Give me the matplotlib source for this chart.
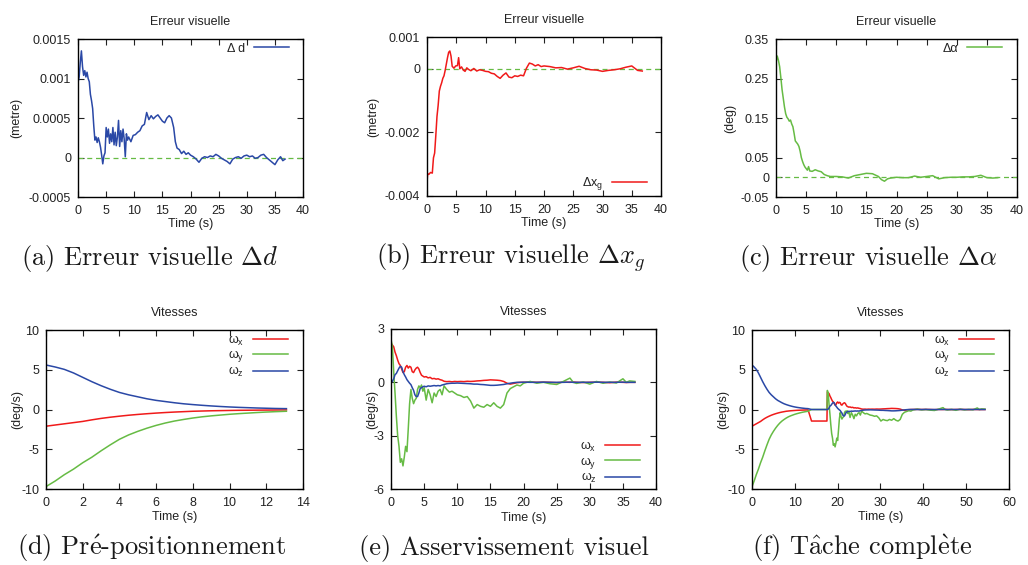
import numpy as np
import matplotlib
matplotlib.use('Agg')
import matplotlib.pyplot as plt

plt.rcParams['font.family'] = ['Liberation Sans', 'DejaVu Sans']
plt.rcParams['mathtext.fontset'] = 'custom'
plt.rcParams['mathtext.rm'] = 'Liberation Sans'
plt.rcParams['mathtext.it'] = 'Liberation Sans:italic'

# ---- (a) visual error delta d, in units of 1e-4 metre
t_a = [0.0, 0.2, 0.4, 0.6, 0.8, 1.0, 1.2, 1.4, 1.6, 1.8,
       2.0, 2.2, 2.4, 2.6, 2.8, 3.0, 3.2, 3.4, 3.6, 3.8,
       4.0, 4.2, 4.4, 4.6, 4.8, 5.0, 5.2, 5.4, 5.6, 5.8,
       6.0, 6.2, 6.4, 6.6, 6.8, 7.0, 7.2, 7.4, 7.6, 7.8,
       8.0, 8.2, 8.4, 8.6, 8.8, 9.0, 9.4, 9.8, 10.2, 10.6,
       11.0, 11.4, 11.8, 12.2, 12.6, 13.0, 13.4, 13.8, 14.2, 14.6,
       15.0, 15.4, 15.8, 16.2, 16.6, 17.0, 17.3, 17.6, 18.0, 18.4,
       18.8, 19.2, 19.6, 20.0, 20.5, 21.0, 21.5, 22.0, 22.5, 23.0,
       23.5, 24.0, 24.5, 25.0, 25.5, 26.0, 26.5, 27.0, 27.5, 28.0,
       28.5, 29.0, 29.5, 30.0, 30.5, 31.0, 31.5, 32.0, 32.5, 33.0,
       33.5, 34.0, 34.5, 35.0, 35.5, 36.0, 36.4, 36.8]
d_a = [9.5, 10.2, 12.0, 13.5, 11.5, 10.4, 11.0, 10.2, 10.8, 10.0,
       9.6, 8.0, 7.2, 6.2, 4.0, 2.2, 2.6, 1.9, 2.5, 2.0,
       1.3, 0.3, -0.8, 0.2, 0.6, 3.8, 2.6, 3.6, 1.8, 3.0,
       2.0, 3.8, 1.6, 3.2, 1.5, 2.6, 4.7, 1.4, 3.4, 2.0,
       3.6, 2.4, 0.1, 3.0, 2.2, 2.6, 2.0, 2.8, 2.9, 3.2,
       3.4, 4.0, 4.2, 5.7, 4.8, 5.3, 4.9, 5.2, 5.4, 5.0,
       4.6, 4.4, 5.0, 5.3, 5.0, 3.8, 2.0, 1.2, 1.0, 0.5,
       0.8, 0.4, 0.6, 0.3, 0.1, -0.2, -0.6, -0.1, 0.1, 0.0,
       0.2, 0.1, 0.4, 0.2, -0.1, -0.3, -0.5, -0.8, -0.2, 0.0,
       0.1, -0.1, 0.2, 0.3, 0.1, 0.2, -0.1, 0.0, 0.3, 0.4,
       0.0, -0.3, -0.6, -0.9, -0.3, 0.1, -0.4, -0.2]

# ---- (b) visual error delta x_g, in units of 1e-4 metre
t_b = [0.0, 0.1, 0.3, 0.6, 0.9, 1.1, 1.3, 1.5, 1.7, 1.9,
       2.1, 2.3, 2.5, 2.7, 2.9, 3.1, 3.3, 3.5, 3.7, 3.9,
       4.1, 4.3, 4.6, 4.9, 5.2, 5.4, 5.6, 5.9, 6.2, 6.5,
       6.8, 7.1, 7.5, 8.0, 8.5, 9.0, 9.5, 10.0, 10.5, 11.0,
       11.5, 12.0, 12.5, 13.0, 13.5, 14.0, 14.5, 15.0, 15.5, 16.0,
       16.5, 17.0, 17.5, 18.0, 18.5, 19.0, 19.5, 20.0, 21.0, 22.0,
       23.0, 24.0, 25.0, 26.0, 27.0, 28.0, 29.0, 30.0, 31.0, 32.0,
       33.0, 34.0, 35.0, 35.5, 36.0, 36.8]
x_b = [-35.5, -33.0, -33.2, -32.6, -32.8, -28.0, -26.5, -21.0, -15.0, -11.5,
       -7.0, -5.5, -4.4, -3.0, -2.2, -0.5, 1.5, 3.5, 5.2, 5.6,
       4.0, 0.8, 0.2, 0.9, 1.0, 3.5, 0.0, 0.6, -0.4, -0.8,
       0.3, -0.2, -0.6, 0.1, -0.7, -0.3, -0.5, -0.8, -0.9, -1.4,
       -1.6, -2.4, -3.0, -2.0, -1.3, -2.6, -2.8, -2.2, -2.4, -2.0,
       -2.2, 0.2, 1.8, 1.5, 0.9, 1.3, 0.7, 0.9, 0.7, 0.3,
       0.4, -0.1, 0.3, 0.8, 0.1, -0.3, -0.4, -0.8, -0.5, -0.3,
       0.0, 0.5, 0.9, 0.2, -0.5, -0.7]

# ---- (c) visual error delta alpha (deg)
t_c = [0.0, 0.1, 0.2, 0.4, 0.6, 0.8, 1.0, 1.2, 1.4, 1.6,
       1.8, 2.0, 2.2, 2.4, 2.6, 2.8, 3.0, 3.2, 3.4, 3.6,
       3.8, 4.0, 4.2, 4.4, 4.6, 4.8, 5.0, 5.2, 5.4, 5.6,
       6.0, 6.5, 7.0, 7.5, 8.0, 8.5, 9.0, 10.0, 11.0, 12.0,
       13.0, 14.0, 15.0, 16.0, 17.0, 17.5, 18.0, 18.5, 19.0, 20.0,
       21.0, 22.0, 23.0, 24.0, 25.0, 26.0, 27.0, 28.0, 29.0, 30.0,
       31.0, 32.0, 33.0, 34.0, 35.0, 36.0, 36.8]
a_c = [0.290, 0.300, 0.307, 0.296, 0.280, 0.252, 0.222, 0.200, 0.178, 0.161,
       0.152, 0.148, 0.142, 0.145, 0.135, 0.128, 0.111, 0.092, 0.088, 0.084,
       0.078, 0.066, 0.050, 0.040, 0.032, 0.026, 0.022, 0.018, 0.027, 0.016,
       0.015, 0.019, 0.016, 0.014, 0.007, 0.004, 0.002, 0.002, 0.001, -0.002,
       0.004, 0.007, 0.010, 0.009, 0.002, -0.006, -0.010, -0.004, -0.002, 0.000,
       -0.001, -0.001, 0.003, 0.000, 0.002, 0.004, -0.004, -0.001, 0.000, 0.000,
       0.001, 0.001, 0.002, 0.005, -0.001, -0.002, -0.001]

# ---- (d) pre-positioning velocities (deg/s)
t_d = [0.0, 0.5, 1.0, 1.5, 2.0, 2.5, 3.0, 3.5, 4.0, 4.5,
       5.0, 5.5, 6.0, 6.5, 7.0, 7.5, 8.0, 8.5, 9.0, 9.5,
       10.0, 10.5, 11.0, 11.5, 12.0, 12.5, 13.1]
wx_d = [-2.1, -1.95, -1.8, -1.65, -1.5, -1.3, -1.12, -0.97, -0.84, -0.72,
        -0.62, -0.53, -0.45, -0.38, -0.32, -0.27, -0.22, -0.19, -0.16, -0.14,
        -0.12, -0.10, -0.09, -0.08, -0.07, -0.06, -0.05]
wy_d = [-9.7, -9.0, -8.2, -7.5, -6.7, -6.0, -5.2, -4.45, -3.75, -3.2,
        -2.75, -2.35, -2.0, -1.7, -1.45, -1.25, -1.07, -0.92, -0.8, -0.7,
        -0.6, -0.52, -0.45, -0.38, -0.32, -0.27, -0.22]
wz_d = [5.6, 5.35, 5.05, 4.6, 4.05, 3.5, 3.0, 2.55, 2.15, 1.85,
        1.6, 1.35, 1.15, 1.0, 0.85, 0.72, 0.62, 0.53, 0.45, 0.38,
        0.32, 0.27, 0.23, 0.19, 0.16, 0.13, 0.11]

# ---- (e) visual servoing velocities (deg/s)
t_e = [0.0, 0.2, 0.4, 0.6, 0.8, 1.0, 1.2, 1.4, 1.6, 1.8,
       2.0, 2.2, 2.4, 2.6, 2.8, 3.0, 3.2, 3.4, 3.6, 3.8,
       4.0, 4.2, 4.4, 4.6, 4.8, 5.0, 5.3, 5.6, 5.9, 6.2,
       6.5, 6.8, 7.1, 7.4, 7.7, 8.0, 8.4, 8.8, 9.2, 9.6,
       10.0, 10.5, 11.0, 11.5, 12.0, 12.5, 13.0, 13.5, 14.0, 14.5,
       15.0, 15.5, 16.0, 16.5, 17.0, 17.5, 18.0, 18.5, 19.0, 19.5,
       20.0, 21.0, 22.0, 23.0, 24.0, 25.0, 26.0, 27.0, 27.5, 28.0,
       29.0, 30.0, 31.0, 32.0, 33.0, 34.0, 35.0, 35.5, 36.0, 36.8]
wx_e = [2.2, 2.1, 2.0, 1.7, 1.5, 1.25, 1.05, 0.95, 0.75, 0.55,
        0.6, 0.85, 0.95, 0.8, 0.9, 0.85, 0.6, 0.55, 0.7, 0.8,
        0.85, 0.75, 0.55, 0.4, 0.35, 0.3, 0.32, 0.25, 0.28, 0.2,
        0.22, 0.18, 0.2, 0.15, 0.12, 0.06, 0.04, 0.05, 0.03, 0.05,
        0.04, 0.05, 0.04, 0.06, 0.05, 0.06, 0.08, 0.09, 0.11, 0.12,
        0.14, 0.13, 0.12, 0.10, 0.05, -0.05, -0.10, -0.06, -0.02, 0.0,
        0.0, 0.02, 0.0, 0.01, 0.0, -0.02, 0.01, 0.0, 0.02, 0.0,
        -0.01, 0.0, 0.01, 0.0, -0.02, 0.01, 0.0, -0.01, 0.0, 0.0]
wy_e = [2.4, 2.0, 0.6, -0.6, -1.9, -3.0, -3.6, -4.5, -4.3, -4.7,
        -4.2, -3.6, -3.9, -2.6, -1.2, -0.4, -0.9, -1.2, -1.0, -0.9,
        -0.4, -0.2, -0.3, -0.15, -0.5, -0.3, -1.0, -0.4, -0.7, -1.15,
        -0.6, -0.8, -0.5, -0.4, -0.7, -0.2, -0.4, -0.55, -0.5, -0.6,
        -0.7, -0.75, -0.85, -0.8, -1.05, -1.45, -1.25, -1.35, -1.4, -1.25,
        -1.35, -1.15, -1.35, -1.45, -1.25, -0.6, -0.35, -0.25, -0.15, -0.2,
        -0.05, 0.05, -0.05, 0.0, -0.08, -0.12, 0.05, 0.24, 0.0, -0.06,
        0.02, -0.1, 0.05, -0.05, 0.02, -0.04, 0.2, 0.0, 0.08, 0.05]
wz_e = [0.0, 0.05, 0.2, 0.43, 0.5, 0.65, 0.8, 0.9, 0.85, 0.6,
        0.43, 0.3, 0.15, 0.05, -0.05, -0.13, -0.3, -0.45, -0.7, -0.8,
        -0.8, -0.6, -0.35, -0.3, -0.25, -0.22, -0.25, -0.2, -0.22, -0.2,
        -0.18, -0.2, -0.18, -0.2, -0.15, -0.12, -0.08, -0.06, -0.05, -0.05,
        -0.04, -0.05, -0.06, -0.07, -0.08, -0.1, -0.1, -0.12, -0.13, -0.15,
        -0.17, -0.17, -0.16, -0.14, -0.12, -0.08, -0.05, -0.02, 0.0, 0.0,
        0.01, 0.0, 0.0, 0.01, 0.0, 0.0, 0.0, 0.01, 0.0, 0.0,
        0.0, 0.0, 0.01, 0.0, 0.0, 0.0, 0.01, 0.0, 0.0, 0.0]

# ---- (f) complete task: pre-positioning, transition, then visual servoing
t_gap = [13.9, 17.5]
wx_gap = [-1.45, -1.45]
wy_gap = [0.0, 0.0]
wz_gap = [0.0, 0.0]
servo_start = 17.6

blue = '#2a48a6'
red = '#f01a1a'
green = '#66bb44'
txt = '#222222'

fig = plt.figure(figsize=(10.28, 5.65), dpi=100)


def style(ax, xlim, xticks, ylim, yticks, yticklabels, ylabel, ylab_x, xlab_y):
    ax.set_xlim(xlim)
    ax.set_ylim(ylim)
    ax.set_xticks(xticks)
    ax.set_yticks(yticks)
    ax.set_yticklabels(yticklabels)
    ax.tick_params(direction='in', top=True, right=True, length=4, width=0.8,
                   labelsize=9, colors=txt, pad=5)
    ax.tick_params(axis='x', pad=6)
    for s in ax.spines.values():
        s.set_linewidth(1.0)
        s.set_color('black')
    ax.set_xlabel('Time (s)', fontsize=9, color=txt)
    ax.xaxis.set_label_coords(0.5, xlab_y)
    ax.set_ylabel(ylabel, fontsize=9, color=txt)
    ax.yaxis.set_label_coords(ylab_x, 0.5)


def legend(ax, loc, anchor):
    leg = ax.legend(loc=loc, bbox_to_anchor=anchor, frameon=False, markerfirst=False,
                    fontsize=9, handlelength=2.8, handletextpad=0.7,
                    labelspacing=0.05, borderaxespad=0, borderpad=0.3)
    for t in leg.get_texts():
        t.set_color(txt)


# (a)
ax = fig.add_axes([0.0759, 0.6513, 0.2189, 0.2796])
ax.axhline(0, color=green, lw=0.9, ls=(0, (4, 3)))
ax.plot(t_a, np.array(d_a) * 1e-4, color=blue, lw=1.1, label='Δ d')
style(ax, (0, 40), range(0, 41, 5), (-0.0005, 0.0015),
      [-0.0005, 0, 0.0005, 0.001, 0.0015],
      ['-0.0005', '0', '0.0005', '0.001', '0.0015'], '(metre)', -0.249, -0.135)
ax.set_title('Erreur visuelle', fontsize=9, color=txt, pad=10)
legend(ax, 'upper right', (0.955, 1.0))

# (b)
ax = fig.add_axes([0.4154, 0.6531, 0.2276, 0.2814])
ax.axhline(0, color=green, lw=0.9, ls=(0, (4, 3)))
ax.plot(t_b, np.array(x_b) * 1e-4, color=red, lw=1.1, label=r'Δx$_{\mathrm{g}}$')
style(ax, (0, 40), range(0, 41, 5), (-0.004, 0.001),
      [-0.004, -0.002, 0, 0.001], ['-0.004', '-0.002', '0', '0.001'],
      '(metre)', -0.205, -0.135)
ax.set_title('Erreur visuelle', fontsize=9, color=txt, pad=10)
legend(ax, 'lower right', (0.955, 0.0))

# (c)
ax = fig.add_axes([0.7549, 0.6513, 0.2344, 0.2796])
ax.axhline(0, color=green, lw=0.9, ls=(0, (4, 3)))
ax.plot(t_c, a_c, color=green, lw=1.1, label='Δα')
style(ax, (0, 40), range(0, 41, 5), (-0.05, 0.35),
      [-0.05, 0, 0.05, 0.15, 0.25, 0.35],
      ['-0.05', '0', '0.05', '0.15', '0.25', '0.35'], '(deg)', -0.166, -0.135)
ax.set_title('Erreur visuelle', fontsize=9, color=txt, pad=10)
legend(ax, 'upper right', (0.955, 1.0))

omega_labels = [r'ω$_{\mathrm{x}}$', r'ω$_{\mathrm{y}}$', r'ω$_{\mathrm{z}}$']

# (d)
ax = fig.add_axes([0.0447, 0.1345, 0.25, 0.2814])
ax.plot(t_d, wx_d, color=red, lw=1.1, label=omega_labels[0])
ax.plot(t_d, wy_d, color=green, lw=1.1, label=omega_labels[1])
ax.plot(t_d, wz_d, color=blue, lw=1.1, label=omega_labels[2])
style(ax, (0, 14), range(0, 15, 2), (-10, 10), [-10, -5, 0, 5, 10],
      ['-10', '-5', '0', '5', '10'], '(deg/s)', -0.090, -0.141)
ax.set_title('Vitesses', fontsize=9, color=txt, pad=10)
legend(ax, 'upper right', (0.955, 1.0))

# (e)
ax = fig.add_axes([0.3804, 0.1345, 0.2578, 0.2832])
ax.plot(t_e, wx_e, color=red, lw=1.1, label=omega_labels[0])
ax.plot(t_e, wy_e, color=green, lw=1.1, label=omega_labels[1])
ax.plot(t_e, wz_e, color=blue, lw=1.1, label=omega_labels[2])
style(ax, (0, 40), range(0, 41, 5), (-6, 3), [-6, -3, 0, 3],
      ['-6', '-3', '0', '3'], '(deg/s)', -0.049, -0.141)
ax.set_title('Vitesses', fontsize=9, color=txt, pad=10)
legend(ax, 'lower right', (0.955, 0.0))

# (f)
t_f = np.concatenate([t_d, t_gap, np.array(t_e) + servo_start])
ax = fig.add_axes([0.7315, 0.1345, 0.25, 0.2814])
ax.plot(t_f, np.concatenate([wx_d, wx_gap, wx_e]), color=red, lw=1.1, label=omega_labels[0])
ax.plot(t_f, np.concatenate([wy_d, wy_gap, wy_e]), color=green, lw=1.1, label=omega_labels[1])
ax.plot(t_f, np.concatenate([wz_d, wz_gap, wz_e]), color=blue, lw=1.1, label=omega_labels[2])
style(ax, (0, 60), range(0, 61, 10), (-10, 10), [-10, -5, 0, 5, 10],
      ['-10', '-5', '0', '5', '10'], '(deg/s)', -0.090, -0.141)
ax.set_title('Vitesses', fontsize=9, color=txt, pad=10)
legend(ax, 'upper right', (0.955, 1.0))

# captions (Computer Modern look)
cap = dict(fontsize=19, ha='center', va='center', color='#1a1a1a',
           family=['cmr10', 'DejaVu Serif'], math_fontfamily='cm')
fig.text(150 / 1028, 1 - 258 / 565, r'(a) Erreur visuelle $\Delta d$', **cap)
fig.text(510 / 1028, 1 - 258 / 565, r'(b) Erreur visuelle $\Delta x_g$', **cap)
fig.text(868 / 1028, 1 - 258 / 565, r'(c) Erreur visuelle $\Delta \alpha$', **cap)
fig.text(152 / 1028, 1 - 548 / 565, r'(d) Pr$\acute{\mathrm{e}}$-positionnement', **cap)
fig.text(504 / 1028, 1 - 548 / 565, '(e) Asservissement visuel', **cap)
fig.text(862 / 1028, 1 - 548 / 565, r'(f) T$\hat{\mathrm{a}}$che compl$\grave{\mathrm{e}}$te', **cap)

fig.savefig('out.png', dpi=100)
